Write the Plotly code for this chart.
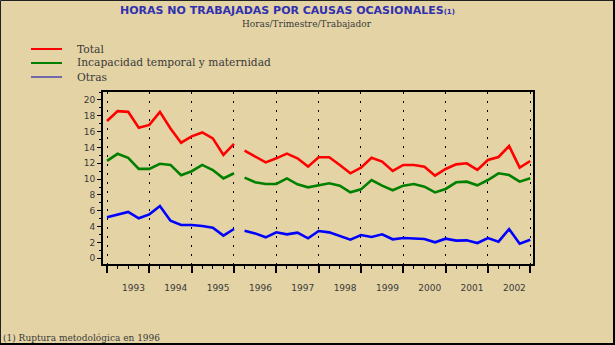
import plotly.graph_objects as go

# ---------------- data ----------------
quarters = ["1992T4"] + [f"{y}T{q}" for y in range(1993, 2003) for q in range(1, 5)]
years = ["1993", "1994", "1995", "1996", "1997", "1998", "1999", "2000", "2001", "2002"]
series_names = ["Total", "Incapacidad temporal y maternidad", "Otras"]

# before methodological break (1992T4 - 1995T4)
total_a = [17.35, 18.6, 18.5, 16.5, 16.85, 18.5, 16.4, 14.6, 15.4, 15.9, 15.15, 13.05, 14.45]
incap_a = [12.3, 13.2, 12.7, 11.3, 11.3, 11.95, 11.8, 10.5, 11.0, 11.8, 11.15, 10.1, 10.75]
otras_a = [5.18, 5.47, 5.85, 5.05, 5.55, 6.6, 4.75, 4.2, 4.2, 4.08, 3.87, 2.86, 3.7]

# after methodological break (1996T1 - 2002T4)
total_b = [13.6, 12.84, 12.12, 12.63, 13.22, 12.63, 11.58, 12.76, 12.76, 11.79, 10.74, 11.45,
           12.71, 12.21, 11.03, 11.79, 11.79, 11.58, 10.44, 11.28, 11.87, 12.0, 11.16, 12.42,
           12.8, 14.19, 11.45, 12.29]
incap_b = [10.19, 9.6, 9.39, 9.39, 10.1, 9.35, 8.97, 9.26, 9.47, 9.18, 8.33, 8.71,
           9.89, 9.18, 8.59, 9.18, 9.39, 9.05, 8.33, 8.76, 9.6, 9.68, 9.22, 9.89,
           10.74, 10.52, 9.68, 10.1]
otras_b = [3.49, 3.15, 2.65, 3.28, 3.03, 3.24, 2.52, 3.45, 3.28, 2.86, 2.35, 2.94,
           2.69, 3.03, 2.4, 2.56, 2.52, 2.44, 2.02, 2.48, 2.23, 2.27, 1.93, 2.56,
           2.1, 3.7, 1.85, 2.35]

y_ticks = list(range(0, 21, 2))

# ---------------- styling ----------------
BG = "#E4D3A4"
colors = ["#FF0000", "#008000", "#0000FF"]
legend_colors = ["#FF0000", "#008000", "#0000B0"]
legend_widths = [2, 2, 1]
TXT = "#3a3a3a"

W, H = 615, 345
ML, MR, MT, MB = 103, 82, 92, 81
PW, PH = W - ML - MR, H - MT - MB


def px(p):
    return (p - ML) / PW


def py(q):
    return (H - MB - q) / PH


n_a = len(total_a)
x_a = list(range(n_a))
x_b = list(range(n_a, n_a + len(total_b)))

fig = go.Figure()
seg_a = [total_a, incap_a, otras_a]
seg_b = [total_b, incap_b, otras_b]
for name, col, ya, yb in zip(series_names, colors, seg_a, seg_b):
    fig.add_trace(go.Scatter(x=x_a, y=ya, mode="lines", name=name, legendgroup=name,
                             line=dict(color=col, width=2.6), showlegend=False,
                             hoverinfo="skip"))
    fig.add_trace(go.Scatter(x=x_b, y=yb, mode="lines", name=name, legendgroup=name,
                             line=dict(color=col, width=2.6), showlegend=False,
                             hoverinfo="skip"))

# year label positions: centre of each year's quarters; boundaries at each T4
year_pos = []
for yr in years:
    idx = [i for i, q in enumerate(quarters) if q.startswith(yr)]
    year_pos.append(sum(idx) / len(idx))
boundaries = [i for i, q in enumerate(quarters) if q.endswith("T4")]

x_range = [-0.38, len(quarters) - 1 + 0.26]

fig.update_layout(
    width=W, height=H,
    margin=dict(l=ML, r=MR, t=MT, b=MB),
    paper_bgcolor=BG, plot_bgcolor=BG,
    showlegend=False,
    xaxis=dict(range=x_range, tickmode="array", tickvals=boundaries,
               showticklabels=False, ticks="outside", ticklen=7, tickwidth=1.5,
               tickcolor="black",
               showgrid=True, gridcolor="black", gridwidth=1.3, griddash="1.5px,7.5px",
               zeroline=False, showline=True, linecolor="black", linewidth=2, mirror=True,
               minor=dict(dtick=1, tick0=0, ticks="outside", ticklen=3, tickwidth=1.2,
                          tickcolor="black", showgrid=False)),
    xaxis2=dict(range=x_range, overlaying="x", side="bottom", anchor="y",
                tickmode="array", tickvals=year_pos, ticktext=years,
                ticks="outside", ticklen=15, tickcolor="rgba(0,0,0,0)",
                tickfont=dict(family="DejaVu Sans", size=9, color=TXT),
                showgrid=False, zeroline=False, showline=False),
    yaxis=dict(range=[-0.72, 21.01], tickmode="array", tickvals=y_ticks,
               ticks="outside", ticklen=4, tickwidth=1.2, tickcolor="black",
               tickfont=dict(family="DejaVu Sans", size=9, color=TXT),
               showgrid=False, zeroline=False, showline=True, linecolor="black",
               linewidth=2, mirror=True,
               minor=dict(dtick=1, tick0=0, ticks="outside", ticklen=2, tickwidth=1,
                          tickcolor="black", showgrid=False)),
)

# invisible trace so xaxis2 is rendered
fig.add_trace(go.Scatter(x=[year_pos[0]], y=[None], xaxis="x2", yaxis="y",
                         showlegend=False, hoverinfo="skip"))

annotations = []
# title
annotations.append(dict(
    x=px(287), y=py(10), xref="paper", yref="paper", xanchor="center", yanchor="middle",
    showarrow=False,
    text="HORAS NO TRABAJADAS POR CAUSAS OCASIONALES<span style='font-size:7px'>(1)</span>",
    font=dict(family="DejaVu Sans", size=11, color="#3030B0", weight="bold")))
annotations.append(dict(
    x=px(307), y=py(24), xref="paper", yref="paper", xanchor="center", yanchor="middle",
    showarrow=False, text="Horas/Trimestre/Trabajador",
    font=dict(family="DejaVu Serif", size=9, color=TXT)))
# footnote
annotations.append(dict(
    x=px(1), y=py(337.5), xref="paper", yref="paper", xanchor="left", yanchor="middle",
    showarrow=False, text="(1) Ruptura metodológica en 1996",
    font=dict(family="DejaVu Serif", size=9, color=TXT)))

shapes = []
legend_y = [49, 63, 77]
for name, col, lw, ly in zip(series_names, legend_colors, legend_widths, legend_y):
    shapes.append(dict(type="line", xref="paper", yref="paper",
                       x0=px(31), x1=px(62), y0=py(ly), y1=py(ly),
                       line=dict(color=col, width=lw)))
    annotations.append(dict(x=px(75), y=py(ly), xref="paper", yref="paper",
                            xanchor="left", yanchor="middle", showarrow=False,
                            text=name, font=dict(family="DejaVu Serif", size=10.7, color=TXT)))

# outer frame
shapes.append(dict(type="rect", xref="paper", yref="paper",
                   x0=px(0.5), x1=px(613.5), y0=py(0.5), y1=py(343.5),
                   line=dict(color="#202020", width=1)))
shapes.append(dict(type="line", xref="paper", yref="paper",
                   x0=px(614), x1=px(614), y0=py(0), y1=py(345),
                   line=dict(color="black", width=2)))
shapes.append(dict(type="line", xref="paper", yref="paper",
                   x0=px(0), x1=px(615), y0=py(344), y1=py(344),
                   line=dict(color="black", width=2)))

fig.update_layout(annotations=annotations, shapes=shapes)

fig.write_html("out.html", config={"displayModeBar": False},
               post_script="document.body.style.margin='0';document.body.style.padding='0';")
